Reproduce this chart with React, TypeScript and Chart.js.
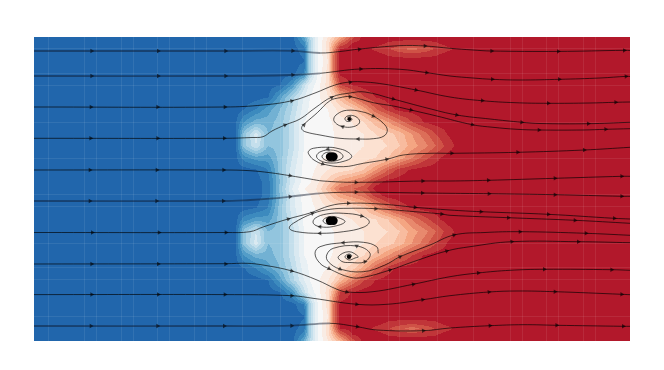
import { useEffect, useRef } from "react";
import { Chart, registerables } from "chart.js";

Chart.register(...registerables);

const fieldX = [34, 236, 244, 256, 268, 280, 292, 304, 310, 316, 328, 334, 340, 352, 364, 376, 388, 400, 412, 424, 436, 448, 460, 630];
const fieldY = [37, 43, 49, 55, 61, 73, 85, 97, 109, 122, 134, 146, 158, 170, 182, 189];
const row037 = [-10, -10, -10, -10, -10, -10, -10, -6.5, -3.5, -1, 1.5, 3, 4.5, 8, 10, 10, 10, 10, 10, 10, 10, 10, 10, 10];
const row043 = [-10, -10, -10, -10, -10, -10, -10, -8, -4, -1, 2, 4.5, 7, 9.5, 10, 10, 9.4, 9.2, 9, 9.2, 9.4, 10, 10, 10];
const row049 = [-10, -10, -10, -10, -10, -10, -10, -9, -4, -1, 2, 6, 9.5, 10, 10, 9.2, 8.6, 7.8, 7, 7.8, 8.6, 9.2, 10, 10];
const row055 = [-10, -10, -10, -10, -10, -10, -10, -9.3, -4, -1, 1.8, 7, 10, 10, 10, 10, 9.4, 9.2, 9, 9.2, 9.4, 10, 10, 10];
const row061 = [-10, -10, -10, -10, -10, -10, -10, -9.6, -4, -1, 1.5, 7, 10, 10, 10, 10, 10, 10, 10, 10, 10, 10, 10, 10];
const row073 = [-10, -10, -10, -10, -10, -10, -10, -8.5, -4, -1, 2, 7, 9.8, 10, 10, 10, 10, 10, 10, 10, 10, 10, 10, 10];
const row085 = [-10, -10, -10, -10, -10, -9.6, -7.5, -3, -1, -0.3, 2, 5, 8.5, 9.6, 10, 10, 10, 10, 10, 10, 10, 10, 10, 10];
const row097 = [-10, -10, -10, -10, -9.6, -7, -4, -1.5, -0.5, 0, 1.5, 2.5, 4, 6.5, 8.5, 9.6, 10, 10, 10, 10, 10, 10, 10, 10];
const row109 = [-10, -10, -9.6, -8.5, -7, -5.5, -3.5, -1, -0.3, 0, 0.5, 1.2, 2, 3, 5, 7.5, 9, 10, 10, 10, 10, 10, 10, 10];
const row122 = [-10, -9.6, -7.5, -6, -6, -5, -3, -0.5, -0.2, 0, 0.3, 0.6, 1, 1.5, 2.5, 4, 5.5, 7, 8.5, 9.6, 10, 10, 10, 10];
const row134 = [-10, -9.6, -5, -2, -5.5, -5, -3, -0.5, -0.2, 0, 0.2, 0.5, 0.8, 1, 1.5, 2.5, 3, 4, 5.5, 7, 8.5, 9.6, 10, 10];
const row146 = [-10, -9.6, -5, -2.5, -5.5, -5, -3, -0.5, -0.2, 0, 0.3, 0.5, 0.8, 1, 1.5, 2, 2.5, 3.5, 5, 6, 7.5, 9, 10, 10];
const row158 = [-10, -9.8, -8, -7, -7, -5, -2.5, -0.3, 0, 0.2, 0.6, 0.8, 1, 1.5, 2, 2.5, 3.5, 5, 6.5, 8, 9.2, 10, 10, 10];
const row170 = [-10, -10, -10, -9.6, -8.5, -5, -2, -0.2, 0.2, 0.6, 1.5, 1.8, 2, 2.5, 3.5, 5.5, 7.5, 9, 9.7, 10, 10, 10, 10, 10];
const row182 = [-10, -10, -10, -10, -9, -5.5, -2, 0, 0.4, 1, 3, 4, 5, 6, 7, 9, 10, 10, 10, 10, 10, 10, 10, 10];
const row189 = [-10, -10, -10, -10, -9, -5, -1.5, 0.5, 0.9, 1.5, 4, 5.5, 7, 7.5, 8, 10, 10, 10, 10, 10, 10, 10, 10, 10];
const fieldRows = [row037, row043, row049, row055, row061, row073, row085, row097, row109, row122, row134, row146, row158, row170, row182, row189];
const mirrorSum = 377.5;

const colorStops = ["#2166ac", "#4393c3", "#92c5de", "#d1e5f0", "#f7f7f7", "#fddbc7", "#f4a582", "#d6604d", "#b2182b"];

// ---- seam lines
const seamX = [48, 84, 96, 121, 133, 157, 169, 194, 206, 242, 280, 352, 388, 400, 437, 473, 510, 522, 546, 558, 583, 595];
const seamY = [48, 73, 85, 122, 158, 194, 206, 243, 267, 279, 316];

// ---- streamlines (in flow order)
const line01 = [[34, 51], [225, 51], [292, 50.8], [320, 53], [340, 51.5], [360, 49], [400, 45.7], [425, 46], [450, 48.3], [473, 50], [491, 51], [558, 51.4], [625, 50.3], [630, 50.5]];
const line02 = [[34, 76], [225, 76], [292, 75], [320, 73.3], [360, 69], [400, 69.3], [427, 72.7], [450, 76], [473, 78], [492, 79.3], [520, 80], [560, 79.3], [600, 78], [627, 76.3], [630, 76.5]];
const line03 = [[34, 107], [225, 107], [263, 105], [292, 100.7], [315, 93], [335, 85], [350, 82], [365, 82], [385, 84.3], [416, 90], [450, 97], [482, 100.7], [515, 102.7], [548, 103.3], [590, 103], [615, 102.3], [630, 102]];
const line04 = [[34, 138.3], [225, 138.3], [252, 137.5], [263, 136.7], [272, 131], [285, 125], [300, 119], [315, 108], [332, 97], [350, 93], [365, 92], [393, 99], [427, 108], [457, 115], [490, 119], [522, 122.3], [540, 123.5], [588, 123.7], [630, 122.3]];
const line05 = [[34, 170], [224, 170], [250, 170.7], [270, 172.7], [290, 175.7], [310, 179], [323, 181], [356, 182.3], [423, 181], [450, 181], [488, 180.3], [555, 178.3], [622, 176.3], [630, 176.3]];
const line06 = [[34, 201], [223, 201], [250, 200], [270, 198.7], [290, 196.7], [320, 193.3], [356, 192.2], [423, 193], [450, 193.3], [489, 193.7], [555, 194.7], [622, 196.3], [630, 196.3]];
const line07 = [[34, 232.5], [226, 232.5], [250, 231.7], [263, 227], [288, 219], [310, 213], [330, 205.7], [348, 203.3], [380, 204], [415, 207.3], [450, 210], [481, 211.7], [548, 214.3], [614, 218.3], [630, 219]];
const line08 = [[34, 264], [226, 263.7], [247, 263.3], [263, 265], [292, 271], [317, 280], [337, 289.3], [347, 292], [373, 291.7], [413, 284.3], [450, 276.7], [478, 273], [510, 270.3], [544, 269.3], [612, 269.7], [630, 270.3]];
const line09 = [[34, 294.6], [225, 294.6], [292, 295.7], [313, 298.3], [357, 304.3], [387, 304.3], [423, 299.7], [450, 295.7], [489, 292], [517, 291], [555, 291.7], [622, 294.3], [630, 294.7]];
const line10 = [[34, 326], [224, 326], [292, 325.7], [330, 323.3], [357, 326.7], [377, 330], [423, 330.7], [450, 328], [490, 325.7], [523, 324.7], [557, 325.3], [623, 326.3], [630, 326.3]];
const vortexA = [[347.3, 119.3], [349.3, 117.7], [352, 119], [350, 121.3], [346.3, 121], [345, 118.3], [348.3, 115.7], [354.3, 116], [359.3, 120], [358.7, 124], [351.7, 127], [343.3, 126.7], [336.7, 124], [333.7, 119.3], [337.3, 114], [346.7, 110.3], [361.7, 111.7], [373.3, 116], [383.3, 123.3], [387.3, 130], [384, 136], [373.3, 138.7], [358.3, 139], [340, 138.3], [320, 135], [306, 132], [302, 129.5], [302, 126.5], [305, 123.3], [317.3, 112.7], [330, 100.7], [340, 97.7], [350, 96.7], [373.3, 102.7], [393.3, 106], [411, 110], [436.7, 116], [472.3, 124.7], [493, 127.3], [517, 129.3], [539, 130], [583, 130], [605.7, 129.3], [630, 128.7]];
const vortexB = [[337, 156], [332, 152.5], [325, 153], [322, 157], [328, 161], [337, 160.5], [343, 157], [340, 152.5], [331, 150], [321, 151.5], [316.5, 156], [320, 160.5], [330, 163], [343, 161.5], [351.7, 157], [347, 151.5], [338, 148.5], [330, 147.3], [313.3, 148.3], [308.3, 151.7], [310, 156], [314, 160], [322.7, 164], [343.3, 166.7], [363.3, 163.3], [386.7, 159.3], [403.3, 155], [430, 153.3], [451.7, 153.3], [517.7, 152.3], [584.3, 150], [630, 147.3]];
const vortexC = [[336, 220.7], [333, 224], [327, 224], [323, 220.7], [328, 217], [336, 217], [345, 221.7], [333.3, 226.5], [320, 226.7], [313.3, 223.3], [315, 218.3], [326.7, 214], [343.3, 213.3], [361.7, 216], [369.3, 221.7], [363.3, 227.3], [343.3, 231.7], [320, 233.3], [296.7, 231.7], [289.3, 228.3], [293.3, 223.3], [313.3, 213.3], [330, 209.3], [348, 208.3], [375.7, 208.7], [415, 211.7], [441.7, 214], [450, 215.3], [508.3, 217.7], [575, 220.3], [630, 223.3]];
const vortexD1 = [[378.3, 253.3], [376.7, 246.7], [363.3, 242.3], [343.3, 242.7], [320, 246.7], [315, 253.3], [320, 263.3], [329, 268.7], [350, 277.3], [363.3, 277.3], [390, 270], [413.3, 261.7], [446.7, 251], [470, 246.7], [511.7, 241.7], [578.3, 241.7], [630, 242.7]];
const vortexD2 = [[349, 256.7], [352, 256], [349, 254], [345, 256.7], [349, 260], [355, 258], [358.3, 256.7], [349, 251.7], [338.3, 256.7], [342, 261.5], [350, 262.5], [365, 261.7], [370, 253.3], [356.7, 246], [333.3, 248.3], [326.7, 255], [328.3, 261.7], [340, 269], [363.3, 271.7], [385, 265], [400, 256.7], [430, 245], [454, 235], [485, 232.5], [520, 231.7], [586, 233.3], [630, 235.3]];
const streamLines = [line01, line02, line03, line04, line05, line06, line07, line08, line09, line10, vortexA, vortexB, vortexC, vortexD1, vortexD2];
const heavyLines = [line01, line02, line06, line10];

const vortexCores = [[330, 156.7, 4.2], [333.5, 156.7, 4.2], [330, 220.7, 4.2], [333.5, 220.7, 4.2], [349.3, 119.2, 1.8], [349, 256.7, 2.2]];

// ---- arrow heads
const arrowsLeft = [
  [91.7, 51], [158.3, 51], [225.7, 51], [91.7, 76], [158.3, 76], [225.7, 76], [91, 107], [157.7, 107], [225, 107],
  [90.7, 138.3], [157.7, 138.3], [224.3, 138.3], [90, 170], [157, 170], [223.7, 170], [90, 201], [156.7, 201], [223.3, 201],
  [92.3, 232.5], [159, 232.5], [226, 232.5], [91.7, 264], [158.3, 264], [225.7, 264], [91.7, 294.6], [158.3, 294.6], [225, 294.6],
  [91, 326], [157.7, 326], [224.3, 326],
];
const arrowsUpper = [
  [292.7, 50.8], [359.3, 49.3], [425, 46], [292.7, 75], [360.7, 69], [426.7, 72.7], [291.7, 101], [350, 82.3], [416, 90],
  [285, 125], [331.7, 97.5], [350, 96.7], [393.3, 99], [411, 110], [456.7, 115], [304, 125], [342.7, 126.7], [373.3, 116], [358.3, 139], [349.3, 117.7],
  [328, 149], [322.7, 164], [386.7, 159.3], [451.7, 153.3], [290, 175.7], [356, 182.3], [422.7, 181],
];
const arrowsUpperRight = [
  [491.7, 51], [558.3, 51.4], [624.3, 50.4], [492.3, 79.3], [559.3, 79.3], [626, 76.4], [482.3, 100.7], [548.3, 103.3], [615.7, 102.3],
  [521.7, 122.3], [588.3, 123.7], [472.3, 124.7], [539, 130], [605.7, 129.3], [517.7, 152.3], [584.3, 150], [488.3, 180.3], [555, 178.3], [621.7, 176.3],
];
const arrowsLower = [
  [290, 196.7], [356, 192.2], [422.3, 193], [288.3, 219], [348.3, 203.3], [375.7, 208.7], [415, 207.3], [441.7, 214], [312.3, 213.3], [361.7, 216], [320, 226.7], [320, 233.3],
  [343.3, 242.7], [356.7, 246], [365, 261.7], [340, 269], [329, 268.7], [390, 270], [400, 256.7], [446.7, 251], [454, 235], [291.7, 271], [346.7, 292], [413.3, 284.3],
  [291.7, 295.7], [356.7, 304.3], [422.7, 299.7], [291.7, 325.7], [357.3, 326.7], [423.3, 330.7],
];
const arrowsLowerRight = [
  [489, 193.7], [555, 194.7], [621.7, 196.3], [481, 211.7], [548.3, 214.3], [614.3, 218.3], [508.3, 217.7], [575, 220.3], [520, 231.7], [586, 233.3],
  [511.7, 241.7], [578.3, 241.7], [478.3, 273], [544.3, 269.3], [611.7, 269.7], [489, 292], [555, 291.7], [621.7, 294.3], [490, 325.7], [556.7, 325.3], [623.3, 326.3],
];
const arrowPoints = [...arrowsLeft, ...arrowsUpper, ...arrowsUpperRight, ...arrowsLower, ...arrowsLowerRight];

// ---- helpers
const hex = (h: string) => [1, 3, 5].map((i) => parseInt(h.slice(i, i + 2), 16));
const stops = colorStops.map(hex);
const bandColor = (band: number) => {
  const t = ((band + 10) / 20) * (stops.length - 1);
  const i = Math.min(stops.length - 2, Math.floor(t));
  const f = t - i;
  const c = stops[i].map((a, k) => Math.round(a + (stops[i + 1][k] - a) * f));
  return `rgb(${c[0]},${c[1]},${c[2]})`;
};
const locate = (arr: number[], v: number) => {
  let i = 0;
  while (i < arr.length - 2 && v > arr[i + 1]) i++;
  const f = Math.max(0, Math.min(1, (v - arr[i]) / (arr[i + 1] - arr[i])));
  return [i, f];
};
const fieldAt = (x: number, yRaw: number) => {
  const y = yRaw > mirrorSum / 2 ? mirrorSum - yRaw : yRaw;
  const [i, fx] = locate(fieldX, x);
  const [j, fy] = locate(fieldY, y);
  const a = fieldRows[j][i] * (1 - fx) + fieldRows[j][i + 1] * fx;
  const b = fieldRows[j + 1][i] * (1 - fx) + fieldRows[j + 1][i + 1] * fx;
  return a * (1 - fy) + b * fy;
};
const arrowAngle = (p: number[]) => {
  let best = Infinity;
  let ang = 0;
  for (const ln of streamLines) {
    for (let k = 0; k < ln.length - 1; k++) {
      const [ax, ay] = ln[k];
      const [bx, by] = ln[k + 1];
      const dx = bx - ax;
      const dy = by - ay;
      const t = Math.max(0, Math.min(1, ((p[0] - ax) * dx + (p[1] - ay) * dy) / (dx * dx + dy * dy)));
      const d = Math.hypot(ax + dx * t - p[0], ay + dy * t - p[1]);
      if (d < best) {
        best = d;
        ang = (Math.atan2(dy, dx) * 180) / Math.PI;
      }
    }
  }
  return ang + 90;
};

const fieldPlugin = {
  id: "filledField",
  beforeDraw(chart: any) {
    const { ctx, chartArea: a, scales } = chart;
    ctx.save();
    for (let py = Math.floor(a.top); py < Math.ceil(a.bottom); py++) {
      const yv = scales.y.getValueForPixel(py + 0.5);
      let start = Math.floor(a.left);
      let cur = Math.round(fieldAt(scales.x.getValueForPixel(start + 0.5), yv));
      for (let px = start + 1; px <= Math.ceil(a.right); px++) {
        const band = px === Math.ceil(a.right) ? NaN : Math.round(fieldAt(scales.x.getValueForPixel(px + 0.5), yv));
        if (band !== cur) {
          ctx.fillStyle = bandColor(cur);
          ctx.fillRect(start, py, px - start, 1);
          start = px;
          cur = band;
        }
      }
    }
    ctx.restore();
  },
};

const toXY = (pts: number[][]) => pts.map((p) => ({ x: p[0], y: p[1] }));
const heavyEnd = 300;

export default function App() {
  const ref = useRef<HTMLCanvasElement>(null);
  useEffect(() => {
    const chart = new Chart(ref.current as HTMLCanvasElement, {
      type: "scatter",
      plugins: [fieldPlugin],
      data: {
        datasets: [
          ...streamLines.map((ln) => {
            const heavy = heavyLines.includes(ln);
            return {
              data: toXY(ln),
              showLine: true,
              tension: 0.4,
              pointRadius: 0,
              borderColor: "rgba(0,0,0,0.72)",
              borderWidth: 0.9,
              segment: heavy
                ? {
                    borderWidth: (c: any) => (c.p0.parsed.x < heavyEnd ? 1.8 : 0.9),
                    borderColor: (c: any) => (c.p0.parsed.x < heavyEnd ? "rgba(10,20,40,0.45)" : "rgba(0,0,0,0.72)"),
                  }
                : undefined,
            };
          }),
          {
            data: toXY(vortexCores),
            showLine: false,
            pointStyle: "circle",
            pointRadius: vortexCores.map((c) => c[2]),
            backgroundColor: "#000",
            borderWidth: 0,
          },
          {
            data: toXY(arrowPoints),
            showLine: false,
            pointStyle: "triangle",
            pointRadius: 2.6,
            rotation: arrowPoints.map(arrowAngle),
            backgroundColor: "rgba(0,0,0,0.62)",
            borderWidth: 0,
          },
        ],
      } as any,
      options: {
        animation: false,
        responsive: false,
        devicePixelRatio: 1,
        layout: { padding: { left: 34, right: 34, top: 37, bottom: 29.5 } },
        plugins: { legend: { display: false }, tooltip: { enabled: false } },
        scales: {
          x: {
            type: "linear",
            min: 34,
            max: 630,
            afterBuildTicks: (axis: any) => {
              axis.ticks = seamX.map((value) => ({ value }));
            },
            border: { display: false },
            ticks: { display: false },
            grid: { color: "rgba(255,255,255,0.08)", lineWidth: 1, drawTicks: false },
          },
          y: {
            type: "linear",
            min: 37,
            max: 340.5,
            reverse: true,
            afterBuildTicks: (axis: any) => {
              axis.ticks = seamY.map((value) => ({ value }));
            },
            border: { display: false },
            ticks: { display: false },
            grid: { color: "rgba(255,255,255,0.08)", lineWidth: 1, drawTicks: false },
          },
        },
      } as any,
    });
    return () => chart.destroy();
  }, []);
  return (
    <div style={{ position: "fixed", left: 0, top: 0, width: 664, height: 370, background: "#fff" }}>
      <canvas ref={ref} width={664} height={370} style={{ display: "block", width: 664, height: 370 }} />
    </div>
  );
}
